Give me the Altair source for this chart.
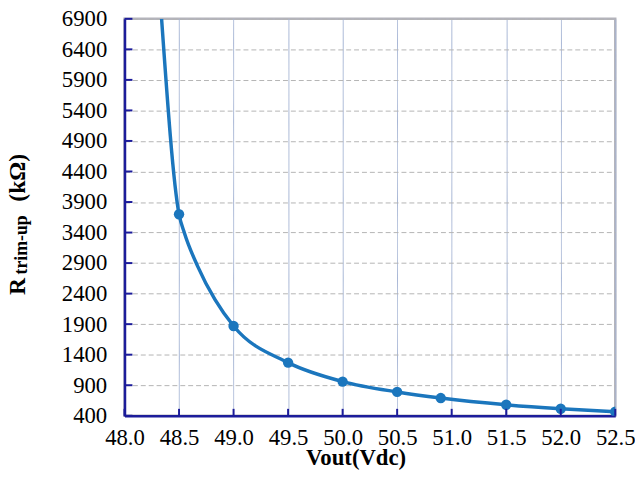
import altair as alt
import pandas as pd

# Measured points (markers)
vout_pts = [48.5, 49.0, 49.5, 50.0, 50.5, 50.9, 51.5, 52.0, 52.5]
rtrim_pts = [3700, 1870, 1270, 960, 790, 690, 580, 515, 465]

# Points
vout_curve = [48.34, 48.5, 48.55, 48.67, 48.83, 49.0, 49.5, 50.0, 50.5, 50.9, 51.5, 52.0, 52.5]
rtrim_curve = [6900, 3700, 3390, 2850, 2300, 1870, 1270, 960, 790, 690, 580, 515, 465]

x_ticks = [48.0, 48.5, 49.0, 49.5, 50.0, 50.5, 51.0, 51.5, 52.0, 52.5]
y_ticks = [400, 900, 1400, 1900, 2400, 2900, 3400, 3900, 4400, 4900, 5400, 5900, 6400, 6900]

FONT = "Liberation Serif, Times New Roman, DejaVu Serif, serif"
DARK = "#1c1c9a"
LINE = "#1b76bd"

pts = pd.DataFrame({"v": vout_pts, "r": rtrim_pts})
curve = pd.DataFrame({"v": vout_curve, "r": rtrim_curve})
xt = pd.DataFrame({"v": x_ticks})
yt = pd.DataFrame({"r": y_ticks})
one = pd.DataFrame({"k": [0]})

xscale = alt.Scale(domain=[48.0, 52.5], nice=False, zero=False)
yscale = alt.Scale(domain=[400, 6900], nice=False, zero=False)

xaxis = alt.Axis(
    values=x_ticks, format=".1f", labelOverlap=False, labelFlush=False, labelPadding=11, tickSize=0,
    labelFont=FONT, labelFontSize=23, labelColor="black",
    gridColor="#a6b5d4", gridDash=[1, 0],
    title="Vout(Vdc)", titleFont=FONT, titleFontSize=23, titleFontWeight="bold", titleColor="black",
    titleX=234, titleY=49, titleBaseline="alphabetic",
)
yaxis = alt.Axis(
    values=y_ticks, format="d", labelOverlap=False, labelFlush=False, labelPadding=18, tickSize=0,
    labelFont=FONT, labelFontSize=23, labelColor="black",
    gridColor="#b4b4b4", gridDash=[5, 3], title=None,
)

X = alt.X("v:Q", scale=xscale, axis=xaxis)
Y = alt.Y("r:Q", scale=yscale, axis=yaxis)

line = alt.Chart(curve).mark_line(
    color=LINE, strokeWidth=3.5, interpolate="monotone", clip=True
).encode(x=X, y=Y, order="v:Q")

points = alt.Chart(pts).mark_point(
    filled=True, size=110, color=LINE, opacity=1, clip=True
).encode(x=X, y=Y)

ytick_marks = alt.Chart(yt).mark_rule(color=DARK, strokeWidth=2).encode(
    y=Y, x=alt.value(0), x2=alt.value(8),
)
xtick_marks = alt.Chart(xt).mark_rule(color=DARK, strokeWidth=2).encode(
    x=X, y=alt.value(402), y2=alt.value(395),
)

t_r = alt.Chart(one).mark_text(
    font=FONT, fontSize=24, fontWeight="bold", angle=270, align="center", baseline="middle", color="black"
).encode(x=alt.value(-108), y=alt.value(271), text=alt.value("R"))
t_sub = alt.Chart(one).mark_text(
    font=FONT, fontSize=18, fontWeight="bold", angle=270, align="center", baseline="middle", color="black"
).encode(x=alt.value(-104), y=alt.value(229), text=alt.value("trim-up"))
t_unit = alt.Chart(one).mark_text(
    font=FONT, fontSize=24, fontWeight="bold", angle=270, align="center", baseline="middle", color="black"
).encode(x=alt.value(-108), y=alt.value(161), text=alt.value("(kΩ)"))

chart = alt.layer(line, points, ytick_marks, xtick_marks, t_r, t_sub, t_unit).properties(
    width=497, height=402,
    background="white",
    autosize=alt.AutoSizeParams(type="none"),
    padding={"left": 118, "top": 8, "right": 20, "bottom": 53},
).configure(
    font=FONT
).configure_view(
    stroke="#b4b4bc", strokeWidth=2.5
).configure_axis(
    labelFont=FONT, labelFontSize=23, labelColor="black",
    titleFont=FONT, titleFontSize=23, titleFontWeight="bold", titleColor="black",
    domainColor=DARK, domainWidth=2.5, grid=True, gridWidth=1,
)

chart.save("out.html", embed_options={"renderer": "svg", "actions": False})
